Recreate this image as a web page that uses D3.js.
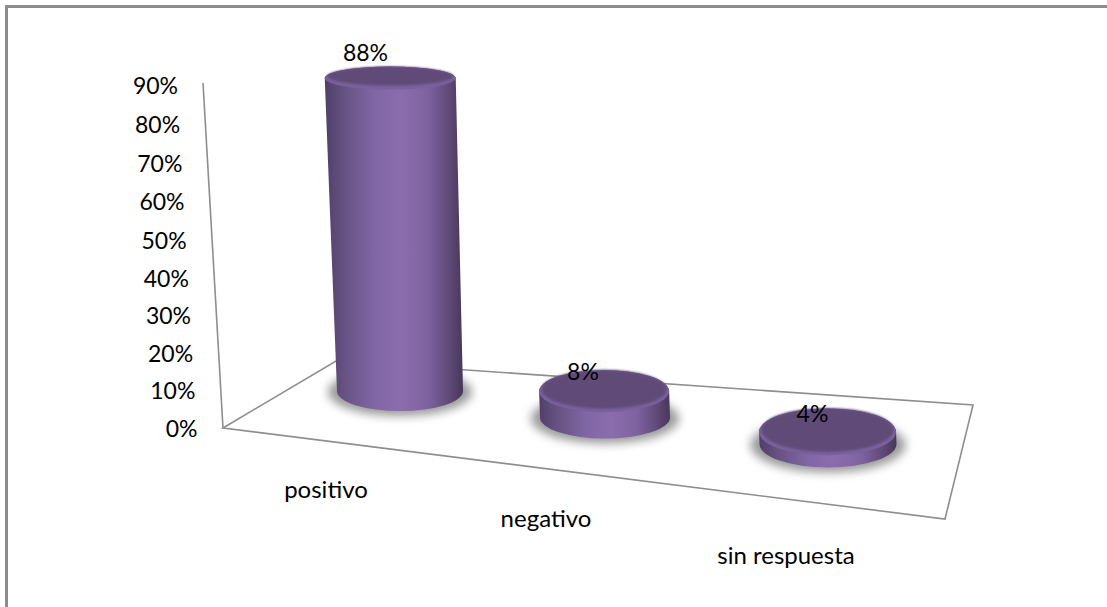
<!DOCTYPE html>
<html><head><meta charset="utf-8">
<script src="https://cdn.jsdelivr.net/npm/d3@7"></script>
<style>html,body{margin:0;padding:0;background:#fff}svg{display:block}text{font-family:Lato,"Open Sans",sans-serif;fill:#000}</style>
</head><body><svg id="c" width="1107" height="607"></svg>
<script>
const categories = ["positivo","negativo","sin respuesta"];
const values = [88,8,4];
const tickValues = [0,10,20,30,40,50,60,70,80,90];
const labelY = [490,519,556];
const labelX = [326,546,786];

const svg=d3.select("#c");
const defs=svg.append("defs");
const body=defs.append("linearGradient").attr("id","body");
[[0,"#4f3e6b"],[.12,"#64507f"],[.35,"#7f66a4"],[.55,"#8b6dae"],[.75,"#7d62a0"],[.9,"#5f4a78"],[1,"#473759"]].forEach(s=>body.append("stop").attr("offset",s[0]).attr("stop-color",s[1]));
defs.append("filter").attr("id","blur").attr("x","-30%").attr("y","-60%").attr("width","160%").attr("height","220%").append("feGaussianBlur").attr("stdDeviation",5);
defs.append("filter").attr("id","soft").attr("x","-5%").attr("y","-20%").attr("width","110%").attr("height","140%").append("feGaussianBlur").attr("stdDeviation",1.2);

const frame=d3.line();
svg.append("path").attr("d",frame([[6.5,607],[6.5,6.5],[1107,6.5]])).attr("fill","none").attr("stroke","#8c8c8c").attr("stroke-width",3);

// axes
const yVal=d3.scaleLinear().domain([0,90]).range([428,83]);
const xAxisAt=d3.scaleLinear().domain([0,90]).range([223,203]);
const yLab=d3.scaleLinear().domain([0,50,90]).range([429,241,86]);
const xLab=d3.scaleLinear().domain([0,90]).range([197.5,178]);
const axisStroke="#8e8e8e";
const line=d3.line();
const floorCorners=[[223,428],[336,361],[973,405],[945,519]];
svg.append("path").attr("d",line(floorCorners)+"Z").attr("fill","none").attr("stroke",axisStroke).attr("stroke-width",1.6);
svg.append("path").attr("d",line([0,90].map(v=>[xAxisAt(v),yVal(v)]))).attr("fill","none").attr("stroke",axisStroke).attr("stroke-width",1.6);
svg.selectAll("text.tick").data(tickValues).join("text").attr("class","tick")
  .attr("x",d=>xLab(d)).attr("y",d=>yLab(d)).attr("dy","0.35em").attr("text-anchor","end")
  .style("font-size","23px").text(d=>d+"%");

// cylinders
const idx=categories.map((_,i)=>i);
const cx=d3.scaleLinear().domain([0,1,2]).range([400,605,828]);
const cy=d3.scaleLinear().domain([0,2]).range([391,444]);
const rx=d3.scaleLinear().domain([0,1,2]).range([63,65,68.5]);
const ry=d3.scaleLinear().domain([0,1,2]).range([20,21,23.5]);
const depth=d3.scaleLinear().domain([0,2]).range([1,.85]);
const h=d3.scaleLinear().domain([0,90]).range([0,320]);
const lean=d3.scaleLinear().domain([0,90]).range([0,10]);

const g=svg.selectAll("g.cyl").data(idx).join("g").attr("class","cyl");
g.append("ellipse").attr("cx",i=>cx(i)).attr("cy",i=>cy(i)+1).attr("rx",i=>rx(i)+9).attr("ry",i=>ry(i)+4)
 .attr("fill","#6e6e6e").attr("opacity",.7).attr("filter","url(#blur)");
g.append("path").attr("d",i=>{
  const x=cx(i),y=cy(i),a=rx(i),b=ry(i),t=h(values[i])*depth(i),l=lean(values[i]);
  const ta=a+(values[i]>50?2.5:0),tb=values[i]>50?11.5:b;
  return `M${x-a},${y}A${a},${b} 0 0 0 ${x+a},${y}L${x+ta-l},${y-t}A${ta},${tb} 0 0 0 ${x-ta-l},${y-t}Z`;
}).attr("fill","url(#body)");
g.append("ellipse").attr("cx",i=>cx(i)-lean(values[i])).attr("cy",i=>cy(i)-h(values[i])*depth(i))
 .attr("rx",i=>rx(i)+(values[i]>50?2.5:0)).attr("ry",i=>values[i]>50?11.5:ry(i)).attr("fill","#7a619c");
g.append("ellipse").attr("cx",i=>cx(i)-lean(values[i])).attr("cy",i=>cy(i)-h(values[i])*depth(i)-2)
 .attr("rx",i=>rx(i)+(values[i]>50?0:-2.5)).attr("ry",i=>(values[i]>50?9.5:ry(i)-1.5)).attr("fill","#614b78").attr("filter","url(#soft)");

svg.selectAll("text.val").data(idx).join("text").attr("class","val")
 .attr("x",i=>[365.5,583,812.5][i]).attr("y",i=>[53,372,414][i]).attr("dy","0.35em").attr("text-anchor","middle")
 .style("font-size","23px").text(i=>values[i]+"%");
svg.selectAll("text.cat").data(idx).join("text").attr("class","cat")
 .attr("x",i=>labelX[i]).attr("y",i=>labelY[i]).attr("dy","0.35em").attr("text-anchor","middle")
 .style("font-size","24px").text(i=>categories[i]);
</script></body></html>
